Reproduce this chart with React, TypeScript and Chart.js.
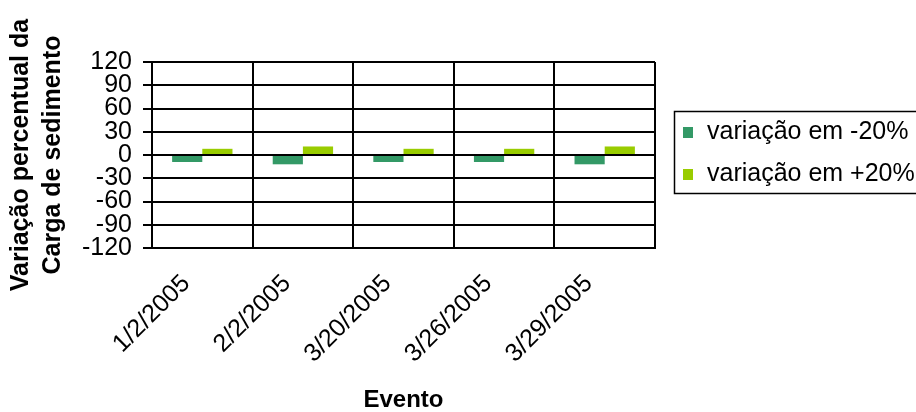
import React, { useEffect, useRef } from "react";
import { Chart, registerables } from "chart.js";

Chart.register(...registerables);

const categories = ["1/2/2005", "2/2/2005", "3/20/2005", "3/26/2005", "3/29/2005"];
const minus20 = [-9, -12, -9, -9, -12];
const plus20 = [8, 11, 8, 8, 11];
const seriesLabels = ["variação em -20%", "variação em +20%"];
const seriesColors = ["#339966", "#99CC00"];
const yTitle = ["Variação percentual da", "Carga de sedimento"];
const xTitle = "Evento";

const FONT = "'Liberation Sans', Arial, sans-serif";

const legendPlugin = {
  id: "boxLegend",
  afterDraw(chart: any) {
    const ctx = chart.ctx;
    ctx.save();
    ctx.lineWidth = 1.5;
    ctx.strokeStyle = "#000";
    ctx.strokeRect(674.5, 111.5, 260, 82);
    const rows = [132, 174];
    chart.data.datasets.forEach((ds: any, i: number) => {
      const y = rows[i];
      ctx.fillStyle = ds.backgroundColor;
      ctx.fillRect(683, y - 5, 10, 11);
      ctx.fillStyle = "#000";
      ctx.font = `25px ${FONT}`;
      ctx.textBaseline = "middle";
      ctx.textAlign = "left";
      ctx.fillText(ds.label, 707, y);
    });
    ctx.restore();
  },
};

export default function App() {
  const ref = useRef<HTMLCanvasElement>(null);
  useEffect(() => {
    document.body.style.margin = "0";
    const chart = new Chart(ref.current!, {
      type: "bar",
      data: {
        labels: categories,
        datasets: [
          { label: seriesLabels[0], data: minus20, backgroundColor: seriesColors[0], categoryPercentage: 0.6, barPercentage: 1.0 },
          { label: seriesLabels[1], data: plus20, backgroundColor: seriesColors[1], categoryPercentage: 0.6, barPercentage: 1.0 },
        ],
      },
      options: {
        animation: false,
        responsive: true,
        maintainAspectRatio: false,
        layout: { padding: { top: 62, right: 261, bottom: 0, left: 0 } },
        plugins: { legend: { display: false }, tooltip: { enabled: false } },
        scales: {
          x: {
            afterFit: (s: any) => { s.height = 164; },
            grid: { color: "#000", lineWidth: 2, drawTicks: false, offset: true },
            border: { color: "#000", width: 2 },
            ticks: {
              color: "#000",
              font: { family: FONT, size: 25 },
              maxRotation: 45,
              minRotation: 45,
              padding: 21,
              labelOffset: -16,
              autoSkip: false,
            },
            title: {
              display: true,
              text: xTitle,
              color: "#000",
              font: { family: FONT, size: 24, weight: "bold", lineHeight: 1.0 },
              padding: { top: 0, bottom: 0 },
            },
          },
          y: {
            z: 1,
            min: -120,
            max: 120,
            afterFit: (s: any) => { s.width = 152; },
            grid: { color: "#000", lineWidth: 2, tickLength: 9 },
            border: { color: "#000", width: 2 },
            ticks: {
              stepSize: 30,
              autoSkip: false,
              color: "#000",
              padding: 11,
              font: { family: FONT, size: 25, lineHeight: 1.0 },
            },
            title: {
              display: true,
              text: yTitle,
              color: "#000",
              font: { family: FONT, size: 25, weight: "bold", lineHeight: 1.28 },
              padding: { top: 5, bottom: 0 },
            },
          },
        },
      },
      plugins: [legendPlugin],
    });
    return () => chart.destroy();
  }, []);
  return (
    <div style={{ position: "absolute", left: 0, top: 0, width: 916, height: 412 }}>
      <canvas ref={ref} />
    </div>
  );
}
